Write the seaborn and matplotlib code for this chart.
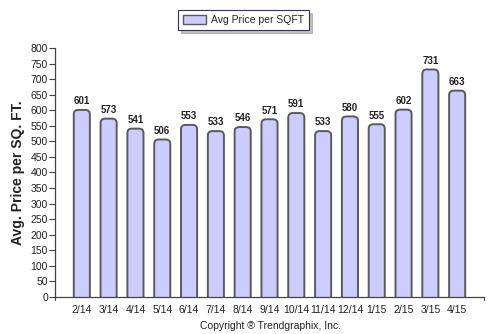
import matplotlib
matplotlib.use("Agg")
import matplotlib.pyplot as plt
import seaborn as sns
import pandas as pd
from matplotlib.patches import FancyBboxPatch

months = ["2/14", "3/14", "4/14", "5/14", "6/14", "7/14", "8/14", "9/14",
          "10/14", "11/14", "12/14", "1/15", "2/15", "3/15", "4/15"]
price_per_sqft = [601, 573, 541, 506, 553, 533, 546, 571,
                  591, 533, 580, 555, 602, 731, 663]
y_ticks = list(range(0, 801, 50))

df = pd.DataFrame({"month": months, "price": price_per_sqft})

sns.set_theme(style="white")
plt.rcParams["font.family"] = ["Liberation Sans", "DejaVu Sans"]

fill = "#ccccff"
edge = "#5a5a5a"

fig = plt.figure(figsize=(4.92, 3.34), dpi=100)
ax = fig.add_axes([0.1118, 0.1108, 0.8719, 0.7455])

sns.barplot(data=df, x="month", y="price", color=fill, width=0.6,
            saturation=1, ax=ax)

ax.set_xlim(-1, 15)
ax.set_ylim(0, 800)

# replace the plain bars with rounded-top versions
px_per_x = 429 / 16
px_per_y = 249 / 800
radius_px = 4.5
rx = radius_px / px_per_x
aspect = (radius_px / px_per_y) / rx
for bar in list(ax.patches):
    x0, w, h = bar.get_x(), bar.get_width(), bar.get_height()
    bar.set_visible(False)
    rb = FancyBboxPatch((x0, -40), w, h + 40,
                        boxstyle=f"round,pad=0,rounding_size={rx}",
                        mutation_aspect=aspect,
                        facecolor=fill, edgecolor=edge, linewidth=1.4,
                        clip_on=True, zorder=2)
    ax.add_patch(rb)
    ax.text(x0 + w / 2, h + 12, f"{int(round(h))}", ha="center", va="bottom",
            fontsize=7, fontweight="bold", color="#222222", zorder=3)

ax.set_yticks(y_ticks)
ax.set_yticklabels([str(v) for v in y_ticks], fontsize=7.5, color="#222222")
ax.set_xticks(range(len(months)))
ax.set_xticklabels(months, fontsize=7.5, color="#222222")
ax.tick_params(axis="x", length=0, pad=6)
ax.tick_params(axis="y", length=4, width=0.8, color="#444444", pad=1,
               direction="out", left=True)
for v in (-1, 15):
    ax.plot([v, v], [0, -10], color="#444444", lw=0.8, clip_on=False)

for s in ("top", "right"):
    ax.spines[s].set_visible(False)
for s in ("left", "bottom"):
    ax.spines[s].set_color("#444444")
    ax.spines[s].set_linewidth(0.9)

ax.set_xlabel("")
ax.set_ylabel("Avg. Price per SQ. FT.", fontsize=10, fontweight="bold",
              color="#222222", labelpad=4)

handle = plt.Rectangle((0, 0), 1, 1, facecolor=fill, edgecolor=edge,
                       linewidth=1.0)
leg = fig.legend([handle], ["Avg Price per SQFT"], loc="center",
                 bbox_to_anchor=(0.495, 0.94), fontsize=7.5, frameon=True,
                 fancybox=False, shadow={"color": "#999999", "alpha": 0.6},
                 handlelength=2.2, handleheight=0.9, borderpad=0.5,
                 handletextpad=0.5)
leg.get_frame().set_edgecolor("#333355")
leg.get_frame().set_linewidth(0.8)

fig.text(0.55, 0.025, "Copyright \u00ae Trendgraphix, Inc.", ha="center",
         va="center", fontsize=7.5, color="#222222")

fig.savefig("out.png", dpi=100)
